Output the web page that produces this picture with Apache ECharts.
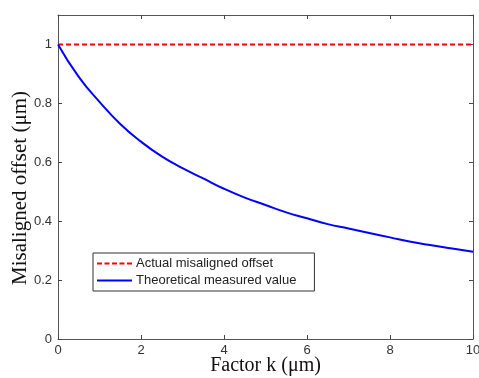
<!DOCTYPE html>
<html>
<head>
<meta charset="utf-8">
<script src="https://cdn.jsdelivr.net/npm/echarts@6/dist/echarts.min.js"></script>
<style>
  html, body { margin: 0; padding: 0; background: #fff; }
  #chart { width: 479px; height: 378px; }
</style>
</head>
<body>
<div id="chart"></div>
<script>
// factor k (um)
const kValues = [0, 0.5, 1, 1.5, 2, 2.5, 3, 3.5, 4, 4.5, 5, 5.5, 6, 6.5, 7, 7.5, 8, 8.5, 9, 9.5, 10]
const measured = [1, 0.89, 0.805, 0.73, 0.67, 0.62, 0.58, 0.545, 0.51, 0.48, 0.455, 0.43, 0.41, 0.39, 0.375, 0.36, 0.345, 0.33, 0.318, 0.307, 0.296]
const actualOffset = [1, 1]
const actualK = [0, 10]

const seriesNames = ['Actual misaligned offset', 'Theoretical measured value']

// legend icons: short line samples, dashed for the first one
const dashIcon = 'path://M0,0h5v2h-5z M7.5,0h5v2h-5z M15,0h5v2h-5z M22.5,0h5v2h-5z M30,0h5v2h-5z'
const solidIcon = 'path://M0,0h35v2h-35z'

const chart = echarts.init(document.getElementById('chart'))

const boxAxis = {
  axisLine: { show: true, onZero: false, lineStyle: { color: '#555', width: 1 } },
  axisTick: { show: true, inside: true, length: 4, lineStyle: { color: '#444' } },
  splitLine: { show: false },
}

const option = {
  animation: false,
  grid: { left: 58, top: 15, right: 6, bottom: 39, outerBoundsMode: 'none', containLabel: false },
  legend: {
    orient: 'vertical',
    left: 93,
    top: 253,
    data: [
      { name: seriesNames[0], icon: dashIcon },
      { name: seriesNames[1], icon: solidIcon },
    ],
    backgroundColor: '#fff',
    borderColor: '#333',
    borderWidth: 1,
    borderRadius: 0,
    padding: [4, 18, 4, 4],
    itemWidth: 35,
    itemHeight: 2,
    itemGap: 4,
    textStyle: { fontFamily: 'Liberation Sans', fontSize: 13, color: '#222', padding: [0, 0, 0, -1] },
  },
  xAxis: [
    {
      ...boxAxis,
      type: 'value',
      min: 0,
      max: 10,
      interval: 2,
      name: 'Factor k (μm)',
      nameLocation: 'middle',
      nameGap: 17,
      nameMoveOverlap: false,
      nameTextStyle: { fontFamily: 'Liberation Serif', fontSize: 20, color: '#111' },
      axisLabel: { fontFamily: 'Liberation Sans', fontSize: 13, color: '#333', margin: 5 },
    },
    {
      ...boxAxis,
      type: 'value',
      position: 'top',
      min: 0,
      max: 10,
      interval: 2,
      axisLabel: { show: false },
    },
  ],
  yAxis: [
    {
      ...boxAxis,
      type: 'value',
      min: 0,
      max: 1.1,
      interval: 0.2,
      name: 'Misaligned offset (μm)',
      nameLocation: 'middle',
      nameGap: 27,
      nameMoveOverlap: false,
      nameTextStyle: { fontFamily: 'Liberation Serif', fontSize: 21, color: '#111', padding: [0, 22, 0, 0] },
      axisLabel: {
        fontFamily: 'Liberation Sans',
        fontSize: 13,
        color: '#333',
        margin: 6,
        showMaxLabel: false,
        formatter: (v) => (v > 1.05 ? '' : String(Math.round(v * 10) / 10)),
      },
    },
    {
      ...boxAxis,
      type: 'value',
      position: 'right',
      min: 0,
      max: 1.1,
      interval: 0.2,
      axisLabel: { show: false },
    },
  ],
  series: [
    {
      name: seriesNames[0],
      type: 'line',
      symbol: 'none',
      data: actualK.map((k, i) => [k, actualOffset[i]]),
      lineStyle: { color: '#ff0000', width: 2, type: [5, 3] },
      itemStyle: { color: '#ff0000' },
    },
    {
      name: seriesNames[1],
      type: 'line',
      symbol: 'none',
      smooth: true,
      data: kValues.map((k, i) => [k, measured[i]]),
      lineStyle: { color: '#0000ff', width: 2 },
      itemStyle: { color: '#0000ff' },
    },
  ],
}

chart.setOption(option)
</script>
</body>
</html>
